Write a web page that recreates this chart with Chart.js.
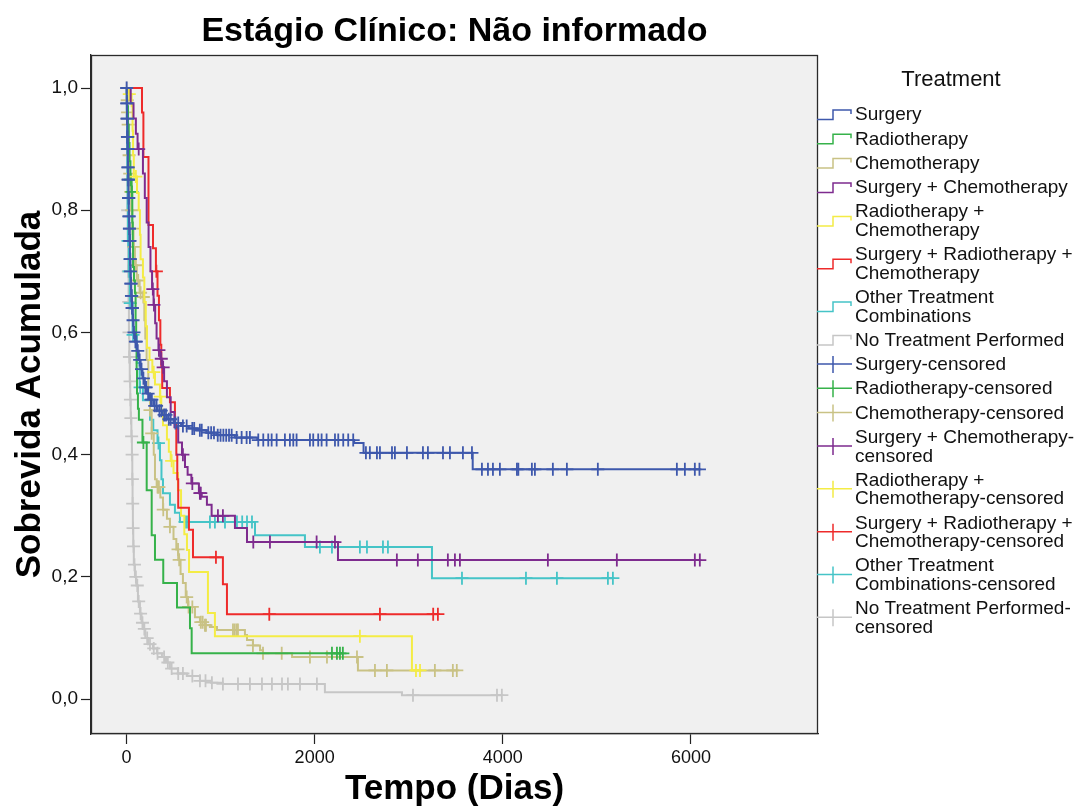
<!DOCTYPE html>
<html><head><meta charset="utf-8">
<script src="https://cdn.jsdelivr.net/npm/chart.js@4.4.1/dist/chart.umd.min.js"></script>
<style>html,body{margin:0;padding:0;background:#fff;}#wrap{width:1079px;height:807px;}</style>
</head><body><div id="wrap"><canvas id="c" width="1079" height="807"></canvas></div>
<script>
const chartTitle = 'Estágio Clínico: Não informado';
const xAxisTitle = 'Tempo (Dias)';
const yAxisTitle = 'Sobrevida Acumulada';
const legendTitle = 'Treatment';
const categories = ['Surgery','Radiotherapy','Chemotherapy','Surgery + Chemotherapy','Radiotherapy + Chemotherapy','Surgery + Radiotherapy + Chemotherapy','Other Treatment Combinations','No Treatment Performed'];
const seriesColors = ['#3E58AC','#36B24A','#C9C285','#7E2B8E','#F4EC45','#EE2B2B','#45C4C7','#C6C6C6'];
const xTickValues = [0,2000,4000,6000];
const xTickLabels = ['0','2000','4000','6000'];
const yTickValues = [0,0.2,0.4,0.6,0.8,1.0];
const yTickLabels = ['0,0','0,2','0,4','0,6','0,8','1,0'];

// Surgery
const surgeryTimes = [0,3,6,9,12,15,18,21,25,29,33,37,41,45,50,58,66,75,90,110,130,150,170,195,220,250,290,330,380,430,500,580,660,750,850,965,1150,1390,2420,2520,3680,6090];
const surgerySurv = [1.0,0.975,0.95,0.92,0.90,0.87,0.85,0.82,0.79,0.77,0.75,0.72,0.70,0.68,0.66,0.64,0.62,0.60,0.585,0.57,0.555,0.54,0.525,0.51,0.50,0.49,0.48,0.472,0.465,0.458,0.452,0.447,0.443,0.44,0.436,0.432,0.428,0.424,0.419,0.403,0.376,0.376];
const surgeryCensored = [2,4,5,7,8,10,11,13,14,16,17,19,20,23,24,27,28,31,32,35,36,39,40,43,47,49,53,56,60,63,70,80,95,105,120,140,160,180,200,210,230,260,270,300,320,350,370,400,420,450,470,520,550,600,640,700,720,780,800,870,900,930,970,1000,1030,1060,1090,1118,1171,1224,1277,1312,1401,1454,1507,1543,1596,1684,1737,1773,1808,1950,1985,2038,2074,2127,2216,2251,2304,2357,2410,2545,2587,2662,2694,2822,2853,2981,3151,3204,3364,3438,3576,3672,3778,3842,3895,3969,4150,4165,4309,4341,4532,4681,5010,5850,5935,6041,6090];
// Radiotherapy
const radioTimes = [0,8,16,24,32,42,55,62,67,70,80,90,97,103,108,112,122,132,170,215,268,303,391,537,675,693,2300];
const radioSurv = [1.0,0.97,0.94,0.91,0.88,0.85,0.83,0.78,0.74,0.707,0.685,0.665,0.62,0.58,0.54,0.50,0.475,0.457,0.42,0.342,0.268,0.228,0.19,0.15,0.116,0.075,0.075];
const radioCensored = [45,58,180,2184,2237,2269,2300];
// Chemotherapy
const chemoTimes = [0,5,10,15,20,26,32,40,50,62,75,90,110,140,179,190,200,214,232,250,268,290,303,321,360,388,430,462,500,530,550,575,600,630,654,728,781,834,887,962,1259,1281,1344,1420,1451,1760,2460,3511];
const chemoSurv = [1.0,0.98,0.96,0.94,0.92,0.89,0.86,0.83,0.80,0.77,0.74,0.71,0.685,0.665,0.658,0.62,0.59,0.555,0.50,0.473,0.435,0.40,0.36,0.347,0.33,0.31,0.295,0.282,0.262,0.245,0.228,0.205,0.19,0.167,0.151,0.134,0.126,0.121,0.118,0.113,0.105,0.097,0.088,0.08,0.075,0.069,0.047,0.047];
const chemoCensored = [8,12,18,22,28,35,45,55,65,80,100,125,150,179,250,268,330,335,345,391,462,548,560,640,660,700,790,810,834,845,1132,1150,1170,1185,1344,1451,1650,1950,2131,2450,2641,2768,3278,3469,3511];
// Surgery + Chemotherapy
const surgChemoTimes = [0,45,75,100,118,175,195,215,235,255,272,288,305,320,340,360,380,400,430,470,510,550,590,622,650,690,770,800,855,905,1153,1281,2248,6094];
const surgChemoSurv = [1.0,0.975,0.95,0.925,0.90,0.86,0.82,0.78,0.74,0.70,0.671,0.645,0.615,0.59,0.571,0.557,0.543,0.52,0.494,0.47,0.445,0.42,0.40,0.38,0.367,0.353,0.337,0.331,0.318,0.30,0.28,0.257,0.2275,0.2275];
const surgChemoCensored = [130,280,292,345,370,390,600,700,780,790,972,1025,1348,1525,2021,2216,2874,3097,3416,3491,3544,4479,5212,6041,6094];
// Radiotherapy + Chemotherapy
const radioChemoTimes = [0,20,55,65,70,78,112,130,143,150,175,190,205,218,245,275,303,356,370,388,430,450,470,500,547,580,615,643,665,866,940,3034,3120];
const radioChemoSurv = [1.0,0.99,0.97,0.93,0.89,0.855,0.828,0.80,0.76,0.72,0.69,0.65,0.61,0.575,0.555,0.535,0.515,0.495,0.473,0.448,0.425,0.405,0.39,0.37,0.342,0.30,0.27,0.244,0.208,0.141,0.103,0.047,0.047];
const radioChemoCensored = [30,100,290,360,480,2481,3077,3120];
// Surgery + Radiotherapy + Chemotherapy
const srcTimes = [0,165,180,234,282,313,330,345,360,370,380,462,515,530,540,550,664,707,1025,1068,3310];
const srcSurv = [1.0,0.96,0.887,0.776,0.738,0.70,0.66,0.62,0.58,0.545,0.509,0.486,0.45,0.40,0.36,0.313,0.277,0.232,0.188,0.139,0.139];
const srcCensored = [318,951,1518,2694,3260,3310];
// Other Treatment Combinations
const otherTimes = [0,3,6,9,12,15,25,35,65,110,140,175,250,285,330,356,372,388,462,515,568,1366,1897,3247,5170];
const otherSurv = [1.0,0.95,0.9,0.85,0.8,0.75,0.70,0.648,0.596,0.55,0.51,0.489,0.457,0.44,0.419,0.391,0.36,0.337,0.318,0.305,0.29,0.268,0.249,0.198,0.198];
const otherCensored = [18,28,40,70,145,340,622,643,887,940,1047,1174,1230,1281,1334,2056,2184,2481,2556,2726,2779,3566,4246,4575,5117,5170];
// No Treatment Performed
const noneTimes = [0,3,6,9,12,15,18,22,26,30,35,40,45,52,58,62,65,68,72,78,90,105,122,143,160,175,200,230,282,324,377,420,462,547,643,781,900,1025,2109,2928,3990];
const noneSurv = [1.0,0.95,0.9,0.85,0.8,0.75,0.70,0.65,0.60,0.56,0.52,0.49,0.46,0.43,0.40,0.36,0.32,0.28,0.25,0.22,0.20,0.186,0.16,0.14,0.125,0.115,0.10,0.09,0.083,0.075,0.069,0.06,0.05,0.042,0.038,0.03,0.027,0.025,0.0115,0.0065,0.0065];
const noneCensored = [2,4,7,8,10,13,16,19,21,24,27,31,33,38,42,47,55,60,63,66,70,75,85,100,115,130,150,170,190,220,250,290,330,400,440,480,550,600,700,781,840,908,1025,1185,1312,1440,1546,1653,1716,1844,2024,3045,3938,3990];

const legendLines = [
  ['Surgery'],['Radiotherapy'],['Chemotherapy'],['Surgery + Chemotherapy'],
  ['Radiotherapy +','Chemotherapy'],['Surgery + Radiotherapy +','Chemotherapy'],
  ['Other Treatment','Combinations'],['No Treatment Performed'],
  ['Surgery-censored'],['Radiotherapy-censored'],['Chemotherapy-censored'],
  ['Surgery + Chemotherapy-','censored'],['Radiotherapy +','Chemotherapy-censored'],
  ['Surgery + Radiotherapy +','Chemotherapy-censored'],['Other Treatment','Combinations-censored'],
  ['No Treatment Performed-','censored']
];

const seriesTimes = [surgeryTimes,radioTimes,chemoTimes,surgChemoTimes,radioChemoTimes,srcTimes,otherTimes,noneTimes];
const seriesSurv = [surgerySurv,radioSurv,chemoSurv,surgChemoSurv,radioChemoSurv,srcSurv,otherSurv,noneSurv];
const seriesCensored = [surgeryCensored,radioCensored,chemoCensored,surgChemoCensored,radioChemoCensored,srcCensored,otherCensored,noneCensored];
const drawOrder = [0,5,6,1,4,2,7,8]; // lower = on top

function survAt(times, surv, t){
  let s = surv[0];
  for (let i=0;i<times.length;i++){ if (times[i] <= t) s = surv[i]; else break; }
  return s;
}

const datasets = [];
categories.forEach((name,k)=>{
  datasets.push({
    type:'line', label:name,
    data: seriesTimes[k].map((t,i)=>({x:t,y:seriesSurv[k][i]})),
    stepped:'before', borderColor:seriesColors[k], backgroundColor:seriesColors[k],
    borderWidth:2, pointRadius:0, fill:false, order:drawOrder[k]
  });
});
categories.forEach((name,k)=>{
  datasets.push({
    type:'line', label:name+'-censored', showLine:false,
    data: seriesCensored[k].map(t=>({x:t,y:survAt(seriesTimes[k],seriesSurv[k],t)})),
    pointStyle:'cross', pointRadius:6.5, pointBorderWidth:1.8,
    borderColor:seriesColors[k], backgroundColor:seriesColors[k], order:drawOrder[k]
  });
});

const FONT = "'Liberation Sans', Arial, sans-serif";

const framePlugin = {
  id:'frame',
  beforeDraw(chart){
    const {ctx, chartArea:a} = chart;
    ctx.save();
    ctx.fillStyle = '#ffffff'; ctx.fillRect(0,0,chart.width,chart.height);
    ctx.fillStyle = '#F0F0F0'; ctx.fillRect(a.left,a.top,a.right-a.left,a.bottom-a.top);
    ctx.restore();
  },
  afterDraw(chart){
    const {ctx, chartArea:a} = chart;
    ctx.save();
    ctx.strokeStyle = '#2a2a2a'; ctx.lineWidth = 1.3;
    ctx.strokeRect(a.left+0.5,a.top+0.5,a.right-a.left-1,a.bottom-a.top-1);
    // legend
    ctx.fillStyle = '#111';
    ctx.textBaseline = 'middle';
    ctx.font = '22px ' + FONT; ctx.textAlign = 'center';
    ctx.fillText(legendTitle, 951, 80);
    ctx.font = '19px ' + FONT; ctx.textAlign = 'left';
    const lineH = 18.5, gap = 5.8;
    let top = 105.75;
    legendLines.forEach((lines,i)=>{
      const h = lines.length*lineH;
      const c = top + h/2;
      const col = seriesColors[i % 8];
      ctx.strokeStyle = col; ctx.lineWidth = 1.5;
      ctx.beginPath();
      if (i < 8){
        ctx.moveTo(817,c+4.5); ctx.lineTo(833,c+4.5); ctx.lineTo(833,c-5);
        ctx.lineTo(851,c-5); ctx.lineTo(851,c-1);
      } else {
        ctx.moveTo(817,c-1); ctx.lineTo(852,c-1);
        ctx.moveTo(833,c-9); ctx.lineTo(833,c+8);
      }
      ctx.stroke();
      ctx.fillStyle = '#111';
      lines.forEach((ln,j)=>{ ctx.fillText(ln, 855, top + lineH*(j+0.5)); });
      top += h + gap;
    });
    ctx.restore();
  }
};

new Chart(document.getElementById('c'), {
  data:{ datasets },
  options:{
    responsive:false, animation:false, events:[],
    layout:{ padding:{left:0,right:261,top:0,bottom:0}, autoPadding:false },
    plugins:{
      legend:{display:false}, tooltip:{enabled:false},
      title:{ display:true, text:chartTitle, fullSize:false, color:'#000',
        font:{family:FONT, size:34, weight:'bold', lineHeight:1.2}, padding:{top:11,bottom:3.2} }
    },
    scales:{
      x:{ type:'linear', min:-377, max:7350,
        afterBuildTicks(s){ s.ticks = xTickValues.map(v=>({value:v})); },
        afterFit(s){ s.height = 73; },
        grid:{ drawOnChartArea:false, drawTicks:true, tickLength:10, tickColor:'#222', tickWidth:1.2 },
        border:{ display:true, color:'#2a2a2a', width:1.3 },
        ticks:{ autoSkip:false, maxRotation:0, padding:3, color:'#111',
          font:{family:FONT, size:18},
          callback:(v)=> xTickLabels[xTickValues.indexOf(v)] },
        title:{ display:true, text:xAxisTitle, color:'#000',
          font:{family:FONT, size:35, weight:'bold', lineHeight:1.0}, padding:{top:0,bottom:0} }
      },
      y:{ type:'linear', min:-0.057, max:1.054,
        afterBuildTicks(s){ s.ticks = yTickValues.map(v=>({value:v})); },
        afterFit(s){ s.width = 91; },
        grid:{ drawOnChartArea:false, drawTicks:true, tickLength:10, tickColor:'#222', tickWidth:1.2 },
        border:{ display:true, color:'#2a2a2a', width:1.3 },
        ticks:{ autoSkip:false, padding:3, color:'#111',
          font:{family:FONT, size:19},
          callback:(v)=>{ const i = yTickValues.findIndex(t=>Math.abs(t-v)<1e-9); return i>=0 ? yTickLabels[i] : ''; } },
        title:{ display:true, text:yAxisTitle, color:'#000',
          font:{family:FONT, size:35, weight:'bold', lineHeight:1.2}, padding:{top:9,bottom:0} }
      }
    }
  },
  plugins:[framePlugin]
});
</script></body></html>
